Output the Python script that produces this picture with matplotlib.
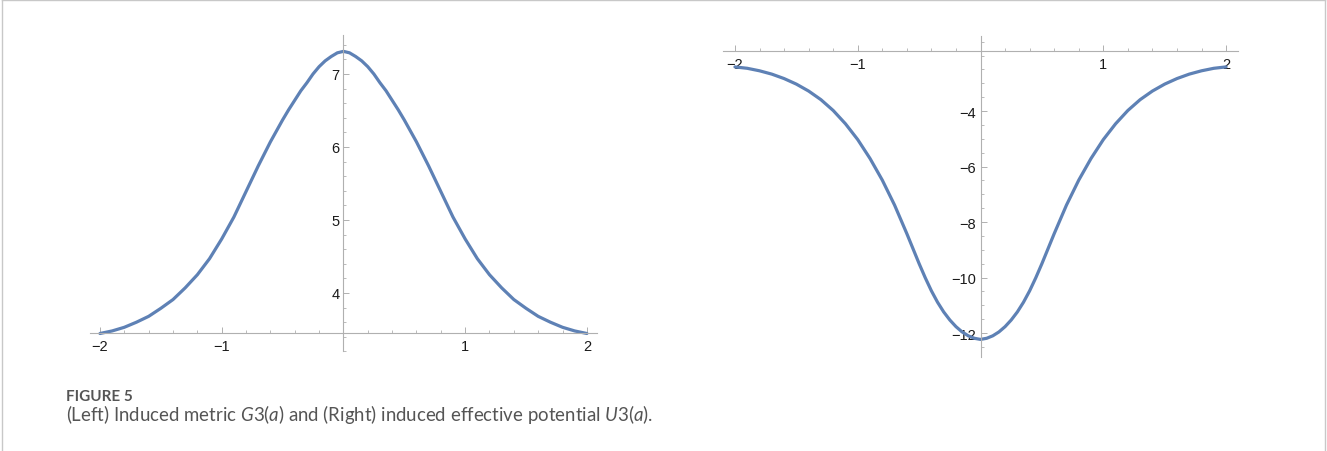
import matplotlib
matplotlib.use("Agg")
import matplotlib.pyplot as plt
from matplotlib.ticker import MultipleLocator, FixedLocator

# ---- data (curves are symmetric in a) ----
a_half = [0.0, 0.05, 0.1, 0.15, 0.2, 0.25, 0.3, 0.35, 0.4, 0.45, 0.5, 0.55, 0.6,
          0.7, 0.8, 0.9, 1.0, 1.1, 1.2, 1.3, 1.4, 1.5, 1.6, 1.7, 1.8, 1.9, 2.0]

G3_half = [7.31, 7.29, 7.24, 7.18, 7.10, 7.00, 6.88, 6.77, 6.64, 6.51, 6.37, 6.22, 6.07,
           5.74, 5.39, 5.04, 4.74, 4.47, 4.25, 4.07, 3.91, 3.79, 3.68, 3.60, 3.53, 3.48, 3.445]
U3_half = [-12.23, -12.19, -12.10, -11.96, -11.77, -11.53, -11.24, -10.89, -10.48, -10.01,
           -9.50, -8.96, -8.42, -7.39, -6.49, -5.71, -5.03, -4.46, -3.98, -3.59, -3.28,
           -3.03, -2.83, -2.67, -2.55, -2.46, -2.41]

a_vals = [-v for v in a_half[::-1]] + a_half[1:]
G3_vals = G3_half[::-1] + G3_half[1:]
U3_vals = U3_half[::-1] + U3_half[1:]

left_xticks = [-2, -1, 1, 2]
left_yticks = [4, 5, 6, 7]
right_xticks = [-2, -1, 1, 2]
right_yticks = [-12, -10, -8, -6, -4]

caption_head = "FIGURE 5"
caption_text = r"(Left) Induced metric $\mathit{G}$3($\mathit{a}$) and (Right) induced effective potential $\mathit{U}$3($\mathit{a}$)."

# ---- style ----
LINE = "#5E81B5"
AX = "#b0b0b0"
plt.rcParams["font.family"] = ["Liberation Sans", "DejaVu Sans"]
plt.rcParams["mathtext.fontset"] = "custom"
plt.rcParams["mathtext.it"] = "Lato:italic"
plt.rcParams["mathtext.rm"] = "Lato"

fig = plt.figure(figsize=(13.27, 4.52), dpi=100)

def style_axes(ax, xcross, ycross, xmaj, ymaj, xminor, yminor):
    for s in ["top", "right"]:
        ax.spines[s].set_visible(False)
    ax.spines["bottom"].set_position(("data", ycross))
    ax.spines["left"].set_position(("data", xcross))
    for s in ["bottom", "left"]:
        ax.spines[s].set_color(AX)
        ax.spines[s].set_linewidth(0.8)
    ax.xaxis.set_major_locator(FixedLocator(xmaj))
    ax.yaxis.set_major_locator(FixedLocator(ymaj))
    ax.xaxis.set_minor_locator(MultipleLocator(xminor))
    ax.yaxis.set_minor_locator(MultipleLocator(yminor))
    ax.tick_params(which="major", direction="in", length=4, width=0.7,
                   color=AX, labelsize=10.5, labelcolor="#1a1a1a")
    ax.tick_params(which="minor", direction="in", length=2.2, width=0.6, color=AX)
    ax.tick_params(axis="x", which="major", pad=4)
    ax.tick_params(axis="y", which="major", pad=3)
    ax.patch.set_alpha(0)

# Left: G3(a)
axL = fig.add_axes([0.0680, 0.2204, 0.3816, 0.7009])
axL.plot(a_vals, G3_vals, color=LINE, lw=2.3, solid_capstyle="round", solid_joinstyle="round")
axL.set_xlim(-2.08, 2.08)
axL.set_ylim(3.2, 7.54)
style_axes(axL, 0.0, 3.445, left_xticks, left_yticks, 0.2, 0.2)

# Right: U3(a)
axR = fig.add_axes([0.5446, 0.2082, 0.3886, 0.7097])
axR.plot(a_vals, U3_vals, color=LINE, lw=2.3, solid_capstyle="round", solid_joinstyle="round")
axR.set_xlim(-2.1, 2.1)
axR.set_ylim(-12.86, -1.30)
style_axes(axR, 0.0, -1.84, right_xticks, right_yticks, 0.2, 0.5)

# Caption
fig.text(66 / 1327, 1 - 397 / 452, caption_head, fontsize=11, color="#555555",
         fontfamily="Lato", fontweight="bold", va="center", ha="left")
fig.text(66 / 1327, 1 - 415 / 452, caption_text, fontsize=13.4, color="#555555",
         fontfamily="Lato", fontweight="normal", va="center", ha="left")

# Border
for xs, ys in [([2, 2], [452, 1]), ([2, 1325], [1, 1]), ([1325, 1325], [1, 452])]:
    fig.add_artist(plt.Line2D([x / 1327 for x in xs], [1 - y / 452 for y in ys],
                              color="#c8c8c8", lw=1, transform=fig.transFigure))

fig.savefig("out.png", dpi=100)
